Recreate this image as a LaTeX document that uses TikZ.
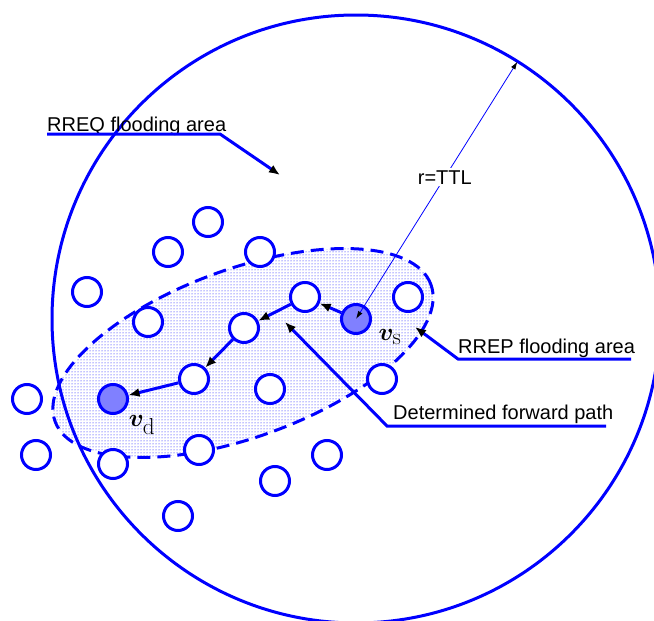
\documentclass[tikz,border=0pt]{standalone}
\usepackage{fontspec}
\usepackage{bm}
\usetikzlibrary{arrows.meta,patterns}
\newfontfamily\labfont{Liberation Sans}
\definecolor{srcfill}{RGB}{128,128,255}

\tikzset{
  host/.style={circle, draw=blue, line width=3pt, fill=white,
               minimum size=29pt, inner sep=0pt},
  endhost/.style={host, fill=srcfill},
  hop/.style={draw=blue, line width=3pt,
              -{Latex[length=11pt,width=9pt,color=black]}},
  callout/.style={draw=blue, line width=3pt,
              -{Latex[length=11pt,width=9pt,color=black]}},
  lab/.style={text=black, font=\labfont\fontsize{20}{24}\selectfont, inner sep=0pt},
  vlab/.style={text=black, font=\fontsize{33}{40}\selectfont, inner sep=0pt},
}

\begin{document}
\begin{tikzpicture}[x=1pt,y=-1pt]
\useasboundingbox (0,0) rectangle (654,621);
\clip (0,0) rectangle (654,621);

% RREP flooding area (dashed, dotted fill)
\path[pattern=dots, pattern color=blue]
  (243,353) ellipse [x radius=200pt, y radius=84pt, rotate=20];
\draw[blue, line width=3pt, dash pattern=on 13pt off 7pt]
  (243,353) ellipse [x radius=200pt, y radius=84pt, rotate=20];

% source node and RREQ flooding area
\coordinate (vsc) at (356,319);
\draw[blue, line width=3pt] (vsc) circle [radius=304pt];

% hosts
\node[host] (n1) at (208,222) {};
\node[host] (n2) at (168,252) {};
\node[host] (n3) at (260,252) {};
\node[host] (n4) at (87,292) {};
\node[host] (n5) at (148,322) {};
\node[host] (p1) at (305,297) {};
\node[host] (n6) at (408,297) {};
\node[host] (p2) at (244,328) {};
\node[host] (p3) at (194,379) {};
\node[host] (n7) at (270,389) {};
\node[host] (n8) at (382,379) {};
\node[host] (n9) at (27,399) {};
\node[host] (n10) at (36,455) {};
\node[host] (n11) at (113,464) {};
\node[host] (n12) at (199,450) {};
\node[host] (n13) at (327,455) {};
\node[host] (n14) at (275,481) {};
\node[host] (n15) at (178,516) {};
\node[endhost] (vs) at (vsc) {};
\node[endhost] (vd) at (113,399) {};

% node labels
\node[vlab] (vslab) at (390,337) {$\bm{v}_{\mathrm{s}}$};
\node[vlab] (vdlab) at (142,425) {$\bm{v}_{\mathrm{d}}$};

% forward path
\draw[hop] (vs) -- (p1);
\draw[hop] (p1) -- (p2);
\draw[hop] (p2) -- (p3);
\draw[hop] (p3) -- (vd);

% radius r = TTL
\coordinate (rim) at (517.5,61.5);
\draw[blue, line width=0.8pt,
      {Latex[length=8pt,width=5pt,color=black]}-{Latex[length=8pt,width=5pt,color=black]}]
  (vs.center) -- node[lab, pos=0.55, fill=white, inner sep=2pt] (ttl) {r=TTL} (rim);

% RREQ flooding area label
\node[lab, anchor=base west] (reqtxt) at (47,131) {RREQ flooding area};
\coordinate (reqA) at (47,134);
\coordinate (reqB) at (220,134);
\coordinate (reqTip) at (280,175);
\draw[callout] (reqA) -- (reqB) -- (reqTip);

% RREP flooding area label
\node[lab, anchor=base west] (reptxt) at (458,353) {RREP flooding area};
\coordinate (repA) at (631,359);
\coordinate (repB) at (458,359);
\coordinate (repTip) at (415,327);
\draw[callout] (repA) -- (repB) -- (repTip);

% forward path label
\node[lab, anchor=base west] (pathtxt) at (393,419) {Determined forward path};
\coordinate (detA) at (606,426);
\coordinate (detB) at (387,426);
\coordinate (detTip) at (285,322);
\draw[callout] (detA) -- (detB) -- (detTip);
\end{tikzpicture}
\end{document}
